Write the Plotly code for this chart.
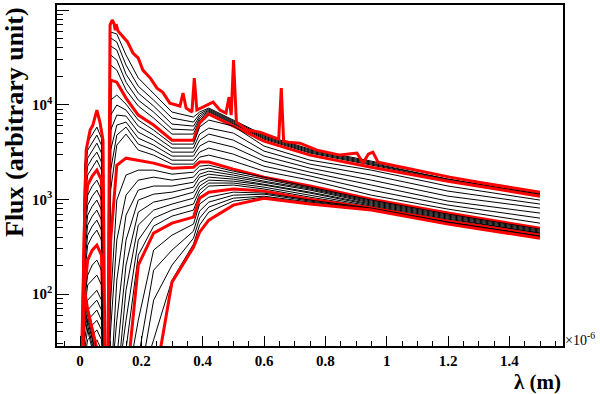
import plotly.graph_objects as go

# wavelength grid shared by most spectra (units of 1e-6 m)
lam = [0.005, 0.015, 0.025, 0.04, 0.055, 0.07, 0.08, 0.09, 0.1, 0.12, 0.15, 0.19,
       0.24, 0.3, 0.37, 0.39, 0.42, 0.5, 0.6, 0.75, 0.95, 1.2, 1.5]

# youngest spectrum, sampled finer to keep its emission lines
lam_a = [0.003, 0.013, 0.02, 0.033, 0.042, 0.055, 0.065, 0.075, 0.082, 0.091, 0.098,
         0.105, 0.111, 0.115, 0.118, 0.124, 0.14, 0.155, 0.173, 0.19, 0.205, 0.23,
         0.251, 0.27, 0.293, 0.326, 0.336, 0.346, 0.365,
         0.3727, 0.381, 0.401, 0.434, 0.456, 0.476, 0.4861, 0.493, 0.5007, 0.51,
         0.545, 0.587, 0.63, 0.648, 0.6563, 0.664, 0.68, 0.717, 0.773, 0.848, 0.903,
         0.923, 0.94, 0.955, 0.972, 1.1, 1.206, 1.314, 1.5]
flux_a = [10, 372, 3320, 5400, 6100, 8790, 6560, 4230, 10, 10, 69500,
          78300, 72000, 61000, 71000, 60000, 51900, 46000, 35100, 31000, 23200, 19000,
          14970, 13500, 10400, 9690, 13300, 9230, 8370,
          19150, 8790, 9460, 10670, 8790, 8170, 12050, 7780, 29600, 6560,
          5400, 5140, 4550, 4330, 14970, 4130, 4030, 3930, 3320, 2940, 3090,
          2420, 3010, 3160, 2480, 2040, 1720, 1490, 1195]

# young group (black) and second marked age (red)
flux_t1 = [10, 2300, 4030, 4780, 5810, 4440, 10, 10, 58600, 55800, 33500, 19150, 13300, 8370, 7410, 8370, 9230, 6890, 4780, 3400, 2540, 1720, 1167]
flux_t2 = [10, 1810, 3320, 4030, 4780, 3750, 10, 10, 50700, 45900, 26200, 15700, 11200, 7230, 6560, 7980, 9010, 6720, 4670, 3320, 2480, 1720, 1167]
flux_t3 = [10, 1420, 2730, 3320, 3930, 3090, 10, 10, 41700, 37800, 21050, 13300, 9690, 6250, 5950, 7590, 8790, 6560, 4550, 3240, 2420, 1640, 1137]
flux_t4 = [10, 1110, 2245, 2730, 3160, 2480, 10, 10, 33500, 29600, 17300, 11200, 8370, 5530, 5400, 7230, 8580, 6410, 4440, 3160, 2360, 1640, 1137]
flux_t5 = [10, 872, 1810, 2190, 2600, 2040, 10, 10, 26200, 23200, 14300, 9690, 7230, 4900, 4900, 6890, 8370, 6250, 4330, 3090, 2300, 1600, 1110]
flux_b = [10, 683, 1420, 1770, 2040, 1600, 10, 10, 18200, 17300, 11760, 7780, 6100, 4230, 4230, 6410, 7980, 5950, 4130, 2940, 2190, 1560, 1083]

# intermediate ages
flux_k1 = [10, 536, 1110, 1386, 1600, 1255, 10, 10, 11200, 12650, 10150, 6890, 5400, 3840, 3840, 5810, 6890, 5950, 3660, 2600, 2040, 1386, 985]
flux_k2 = [10, 420, 872, 1083, 1255, 985, 10, 10, 7780, 9930, 8790, 5950, 4780, 3490, 3490, 4900, 5670, 5020, 3240, 2360, 1810, 1225, 894]
flux_k3 = [10, 329, 683, 851, 985, 772, 10, 10, 5400, 7780, 7590, 5140, 4230, 3160, 3160, 4230, 4900, 4230, 2870, 2140, 1600, 1083, 811]
flux_k4 = [10, 258, 536, 667, 772, 605, 10, 10, 3320, 6100, 6560, 4440, 3750, 2870, 2870, 3660, 4130, 3570, 2540, 1940, 1420, 961, 718]
flux_k5 = [10, 203, 420, 523, 605, 474, 10, 10, 2040, 4780, 5810, 3840, 3320, 2600, 2600, 3160, 3490, 3010, 2245, 1770, 1255, 872, 635]
flux_k6 = [10, 159, 329, 410, 474, 372, 10, 10, 1255, 3750, 4900, 3320, 2940, 2360, 2360, 2800, 2940, 2540, 1990, 1600, 1110, 791, 562]
flux_c = [10, 110, 229, 292, 329, 258, 10, 10, 372, 2300, 2730, 2600, 2420, 2140, 2190, 2480, 2480, 2090, 1720, 1386, 1008, 718, 498]

# old group
flux_c1 = [10, 86.5, 159, 203, 229, 179, 10, 10, 86.5, 985, 1810, 2040, 2040, 1850, 1940, 2245, 2300, 1990, 1720, 1350, 985, 700, 486]
flux_c2 = [10, 68, 125, 141, 159, 125, 10, 10, 42, 372, 1110, 1600, 1720, 1600, 1720, 2040, 2140, 1900, 1640, 1320, 961, 683, 474]
flux_c3 = [10, 53, 86.5, 97.8, 110, 86.5, 10, 10, 10, 141, 683, 1255, 1386, 1386, 1520, 1850, 1990, 1810, 1560, 1290, 938, 667, 463]
flux_c4 = [10, 42, 68, 76.6, 86.5, 68, 10, 10, 10, 53, 372, 985, 1137, 1195, 1350, 1720, 1850, 1720, 1520, 1255, 916, 651, 452]
flux_c5 = [10, 33, 53, 60, 68, 53, 10, 10, 10, 21, 203, 735, 938, 1032, 1195, 1520, 1720, 1640, 1450, 1195, 894, 635, 441]
flux_c6 = [10, 26, 42, 47, 53, 42, 10, 10, 10, 10, 110, 536, 772, 894, 1032, 1386, 1600, 1560, 1420, 1167, 872, 620, 441]
flux_c7 = [10, 21, 33, 37, 42, 33, 10, 10, 10, 10, 53, 372, 635, 772, 894, 1255, 1490, 1490, 1350, 1110, 851, 605, 430]
flux_c8 = [10, 17, 26, 29, 33, 26, 10, 10, 10, 10, 26, 258, 523, 667, 772, 1137, 1386, 1420, 1290, 1057, 831, 590, 420]
flux_d = [10, 86.5, 68, 42, 26, 10, 10, 10, 10, 10, 10, 203, 441, 562, 651, 1032, 1195, 1290, 1225, 1008, 811, 590, 420]
flux_d1 = [10, 76.6, 60, 37, 21, 10, 10, 10, 10, 10, 10, 53, 292, 420, 549, 894, 1057, 1195, 1167, 985, 811, 576, 410]
flux_d2 = [10, 68, 53, 33, 17, 10, 10, 10, 10, 10, 10, 21, 179, 292, 463, 753, 938, 1110, 1137, 961, 791, 576, 410]
flux_d3 = [10, 60, 47, 29, 13, 10, 10, 10, 10, 10, 10, 10, 86.5, 203, 390, 635, 831, 1032, 1083, 938, 791, 562, 400]
flux_d4 = [10, 53, 42, 26, 10, 10, 10, 10, 10, 10, 10, 10, 33, 141, 338, 536, 735, 961, 1057, 916, 772, 562, 400]
flux_e = [10, 110, 68, 42, 26, 10, 10, 10, 10, 10, 10, 10, 10, 134, 313, 452, 605, 872, 1032, 894, 772, 549, 390]

# drawing order: young -> old, red = marked ages; the youngest one goes on top
spectra = [
    (lam, flux_t1, False), (lam, flux_t2, False), (lam, flux_t3, False),
    (lam, flux_t4, False), (lam, flux_t5, False), (lam, flux_b, True),
    (lam, flux_k1, False), (lam, flux_k2, False), (lam, flux_k3, False),
    (lam, flux_k4, False), (lam, flux_k5, False), (lam, flux_k6, False),
    (lam, flux_c, True),
    (lam, flux_c1, False), (lam, flux_c2, False), (lam, flux_c3, False),
    (lam, flux_c4, False), (lam, flux_c5, False), (lam, flux_c6, False),
    (lam, flux_c7, False), (lam, flux_c8, False), (lam, flux_d, True),
    (lam, flux_d1, False), (lam, flux_d2, False), (lam, flux_d3, False),
    (lam, flux_d4, False), (lam, flux_e, True),
    (lam_a, flux_a, True),
]

x_ticks = [0, 0.2, 0.4, 0.6, 0.8, 1.0, 1.2, 1.4]
x_labels = ["0", "0.2", "0.4", "0.6", "0.8", "1", "1.2", "1.4"]
x_minor = [-0.05, 0.05, 0.1, 0.15, 0.25, 0.3, 0.35, 0.45, 0.5, 0.55, 0.65, 0.7, 0.75,
           0.85, 0.9, 0.95, 1.05, 1.1, 1.15, 1.25, 1.3, 1.35, 1.45, 1.5, 1.55]
y_ticks = [100, 1000, 10000, 100000]
y_labels = ["10<sup>2</sup>", "10<sup>3</sup>", "10<sup>4</sup>", "10<sup>5</sup>"]
y_minor = [m * d for d in (10, 100, 1000, 10000) for m in range(2, 10) if 28 < m * d]

fig = go.Figure()
for xs, ys, marked in spectra:
    fig.add_trace(go.Scatter(
        x=xs, y=ys, mode="lines",
        line=dict(color="#ff0000" if marked else "#000000", width=3 if marked else 1),
        showlegend=False, hoverinfo="skip",
    ))

tick_font = dict(family="Liberation Serif", size=15, color="black", weight="bold")

fig.update_layout(
    width=600, height=394,
    margin=dict(l=57, r=37, t=5, b=48, autoexpand=False),
    paper_bgcolor="white", plot_bgcolor="white",
    xaxis=dict(
        range=[-0.075, 1.575], tickmode="array", tickvals=x_ticks, ticktext=x_labels,
        ticks="inside", ticklen=10, tickwidth=1, tickcolor="black",
        minor=dict(tickmode="array", tickvals=x_minor, ticks="inside", ticklen=5, tickcolor="black"),
        showline=True, linecolor="black", linewidth=1.5, mirror=True,
        showgrid=False, zeroline=False, tickfont=tick_font, automargin=False,
    ),
    yaxis=dict(
        type="log", range=[1.453, 5.053], tickmode="array", tickvals=y_ticks, ticktext=y_labels,
        ticks="inside", ticklen=12, tickwidth=1, tickcolor="black",
        minor=dict(tickmode="array", tickvals=y_minor, ticks="inside", ticklen=6, tickcolor="black"),
        showline=True, linecolor="black", linewidth=1.5, mirror=True,
        showgrid=False, zeroline=False, tickfont=tick_font, automargin=False,
    ),
    annotations=[
        dict(text="λ (m)", xref="paper", yref="paper", x=1.0, y=-0.065,
             xanchor="right", yanchor="top", showarrow=False,
             font=dict(family="Liberation Serif", size=21, color="black", weight="bold")),
        dict(text="Flux (arbitrary unit)", xref="paper", yref="paper", x=-0.085, y=1.0,
             xanchor="center", yanchor="top", textangle=-90, showarrow=False,
             font=dict(family="Liberation Serif", size=26, color="black", weight="bold")),
        dict(text="×10<sup>-6</sup>", xref="paper", yref="paper", x=1.0, y=0.02,
             xanchor="left", yanchor="middle", showarrow=False,
             font=dict(family="Liberation Serif", size=14, color="black")),
    ],
)

# the page body keeps its default 8px margin otherwise
fig.write_html("out.html", config={"displayModeBar": False},
               post_script="document.body.style.margin='0';")
